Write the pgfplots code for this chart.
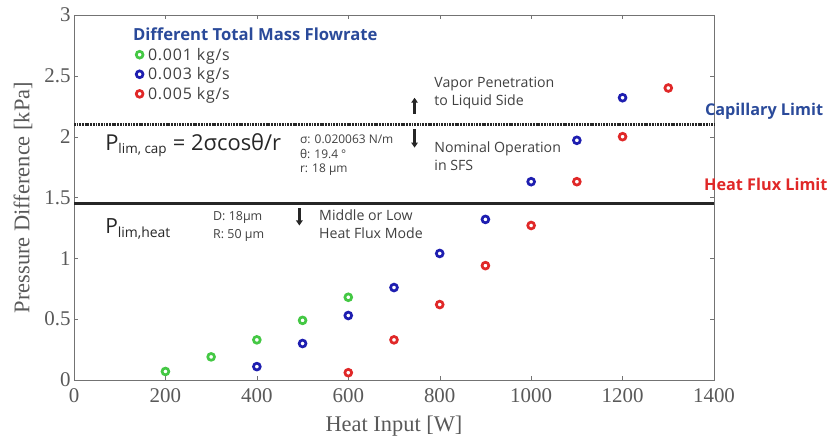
\documentclass[border=0pt]{standalone}
\usepackage{fontspec}
\setmainfont{Liberation Serif}
\newfontfamily\sans{Open Sans}
\newfontfamily\sanswide[LetterSpace=5]{Open Sans}
\usepackage{pgfplots}
\pgfplotsset{compat=1.18}
\usetikzlibrary{arrows.meta}
\definecolor{cgreen}{HTML}{44C844}
\definecolor{cblue}{HTML}{1E1EB0}
\definecolor{cred}{HTML}{E02828}
\definecolor{ctitle}{HTML}{2A4A9A}
\definecolor{ctxt}{HTML}{404040}
\begin{document}
\begin{tikzpicture}
\begin{axis}[
  scale only axis, width=640bp, height=365bp,
  xmin=0, xmax=1400, ymin=0, ymax=3,
  xtick={0,200,...,1400}, ytick={0,0.5,...,3},
  yticklabels={0,0.5,1,1.5,2,2.5,3},
  /pgf/number format/1000 sep={},
  tick align=inside, major tick length=4bp,
  axis line style={draw=black!55},
  tick style={draw=black!55},
  ticklabel style={font=\fontsize{21}{23}\selectfont, text=black!65},
  xticklabel style={yshift=-5bp},
  /pgf/number format/assume math mode=true,
  xlabel={Heat Input [W]}, ylabel={Pressure Difference [kPa]},
  label style={font=\fontsize{22.5}{24}\selectfont, text=black!65},
  xlabel style={yshift=-6bp}, ylabel style={yshift=5bp},
  clip=false,
  legend style={draw=none, fill=none, at={(axis cs:118,2.93)}, anchor=north west,
    font=\sanswide\fontsize{16}{18}\selectfont, text=ctxt, row sep=2pt,
    /tikz/every odd column/.append style={column sep=3pt}},
  legend cell align=left,
  mk/.style={only marks, mark=o, mark size=3.4bp, line width=2.7bp},
]
\addlegendimage{empty legend}
\addlegendentry{\hspace{-15pt}\sans\textbf{\color{ctitle}\fontsize{16.7}{18}\selectfont Different Total Mass Flowrate}}
\addplot[mk, color=cgreen] coordinates {(200,0.07) (300,0.19) (400,0.33) (500,0.49) (600,0.68)};
\addlegendentry{0.001 kg/s}
\addplot[mk, color=cblue] coordinates {(400,0.11) (500,0.30) (600,0.53) (700,0.76) (800,1.04) (900,1.32) (1000,1.63) (1100,1.97) (1200,2.32)};
\addlegendentry{0.003 kg/s}
\addplot[mk, color=cred] coordinates {(600,0.06) (700,0.33) (800,0.62) (900,0.94) (1000,1.27) (1100,1.63) (1200,2.00) (1300,2.40)};
\addlegendentry{0.005 kg/s}
% limit lines
\addplot[mark=none, black!85, line width=3bp, dash pattern=on 1.8bp off 0.9bp, forget plot] coordinates {(0,2.10) (1400,2.10)};
\addplot[mark=none, black!85, line width=3bp, forget plot] coordinates {(0,1.45) (1400,1.45)};
% right labels
\node[anchor=west, inner sep=0, font=\sans\bfseries\fontsize{16.3}{18}\selectfont, text=ctitle] at (axis cs:1380,2.21) {Capillary Limit};
\node[anchor=west, inner sep=0, font=\sans\bfseries\fontsize{16.3}{18}\selectfont, text=cred] at (axis cs:1378,1.61) {Heat Flux Limit};
% equation
\node[anchor=west, font=\sans\fontsize{22}{24}\selectfont, text=black!85, inner sep=0] at (axis cs:68,1.93) {P\textsubscript{\fontsize{13.5}{13}\selectfont lim, cap} = 2σcosθ/r};
\node[anchor=north west, align=left, font=\sans\fontsize{12}{15}\selectfont, text=ctxt, inner sep=0] at (axis cs:494,2.02) {σ: 0.020063 N/m\\θ: 19.4 °\\r: 18 μm};
\node[anchor=west, font=\sans\fontsize{21}{22}\selectfont, text=black!85, inner sep=0] at (axis cs:68,1.24) {P\textsubscript{\fontsize{14}{14}\selectfont lim,heat}};
\node[anchor=north west, align=left, font=\sans\fontsize{12.5}{18}\selectfont, text=ctxt, inner sep=0] at (axis cs:304,1.39) {D: 18μm\\R: 50 μm};
% arrows
\draw[-{Triangle[width=6.5bp,length=5bp]}, line width=2.4bp, black!85] (axis cs:745,2.19) -- (axis cs:745,2.32);
\draw[-{Triangle[width=6.5bp,length=5bp]}, line width=2.4bp, black!85] (axis cs:745,2.06) -- (axis cs:745,1.91);
\draw[-{Triangle[width=6.5bp,length=5bp]}, line width=2.4bp, black!85] (axis cs:493,1.41) -- (axis cs:493,1.27);
% descriptions
\node[anchor=north west, align=left, font=\sans\fontsize{14.2}{18}\selectfont, text=ctxt, inner sep=0] at (axis cs:788,2.49) {Vapor Penetration\\to Liquid Side};
\node[anchor=north west, align=left, font=\sans\fontsize{14.2}{18}\selectfont, text=ctxt, inner sep=0] at (axis cs:788,1.96) {Nominal Operation\\in SFS};
\node[anchor=north west, align=left, font=\sans\fontsize{14.2}{18}\selectfont, text=ctxt, inner sep=0] at (axis cs:536,1.40) {Middle or Low\\Heat Flux Mode};
% bounding box to match reference margins
\path (rel axis cs:0,0) ++(-74bp,-66bp) (rel axis cs:1,1) ++(115bp,15bp);
\end{axis}
\end{tikzpicture}
\end{document}
